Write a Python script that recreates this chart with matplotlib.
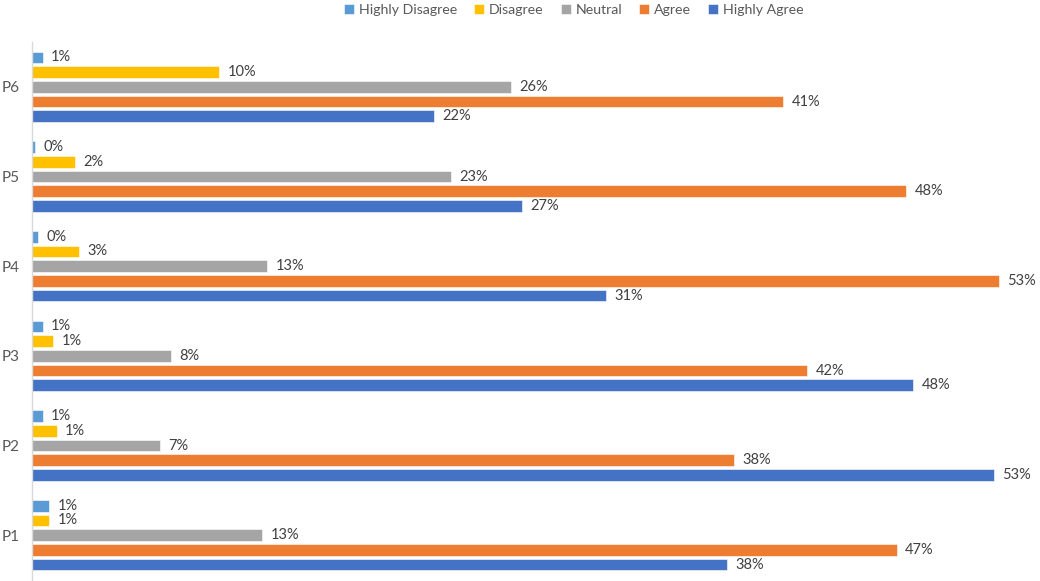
import numpy as np
import matplotlib
matplotlib.use('Agg')
import matplotlib.pyplot as plt

plt.rcParams['font.family'] = ['Lato', 'DejaVu Sans']

# survey items, bottom to top
items = ['P1', 'P2', 'P3', 'P4', 'P5', 'P6']
series = ['Highly Disagree', 'Disagree', 'Neutral', 'Agree', 'Highly Agree']
colors = ['#5B9BD5', '#FFC000', '#A5A5A5', '#ED7D31', '#4472C4']

# percentages (P1..P6)
highly_disagree = [0.93, 0.58, 0.58, 0.34, 0.16, 0.58]
disagree = [0.93, 1.36, 1.16, 2.58, 2.36, 10.25]
neutral = [12.6, 7.0, 7.6, 12.86, 22.9, 26.2]
agree = [47.3, 38.4, 42.4, 52.9, 47.8, 41.1]
highly_agree = [38.0, 52.6, 48.2, 31.4, 26.8, 21.96]

data = [highly_disagree, disagree, neutral, agree, highly_agree]

fig = plt.figure(figsize=(10.4, 5.81), dpi=100)
ax = fig.add_axes([32 / 1040, 1 / 581, 991 / 1040, 538 / 581])

y = np.arange(len(items))
slot = 0.164
height = 0.13

for i, (name, vals, col) in enumerate(zip(series, data, colors)):
    pos = y + (2 - i) * slot
    bars = ax.barh(pos, vals, height=height, color=col, label=name,
                   edgecolor='white', linewidth=0.4)
    for b, v in zip(bars, vals):
        ax.annotate(f'{v:.0f}%', (b.get_width(), b.get_y() + b.get_height() / 2),
                    xytext=(6, 0), textcoords='offset points',
                    va='center', ha='left', fontsize=10.5, color='#404040',
                    annotation_clip=False)

ax.set_xlim(0, 54.2)
ax.set_ylim(-0.5, len(items) - 0.5)
ax.set_yticks(y)
ax.set_yticklabels(items, fontsize=11, color='#595959')
ax.tick_params(axis='y', length=0, pad=9)
ax.xaxis.set_visible(False)
for s in ['top', 'right', 'bottom']:
    ax.spines[s].set_visible(False)
ax.spines['left'].set_color('#D9D9D9')
ax.spines['left'].set_linewidth(1)

leg = fig.legend(loc='upper center', bbox_to_anchor=(574 / 1040, 1.015), ncol=5,
                 frameon=False, fontsize=10.2, handlelength=0.7, handleheight=0.7,
                 handletextpad=0.35, columnspacing=1.2)
for t in leg.get_texts():
    t.set_color('#595959')

fig.savefig('out.png', dpi=100)
